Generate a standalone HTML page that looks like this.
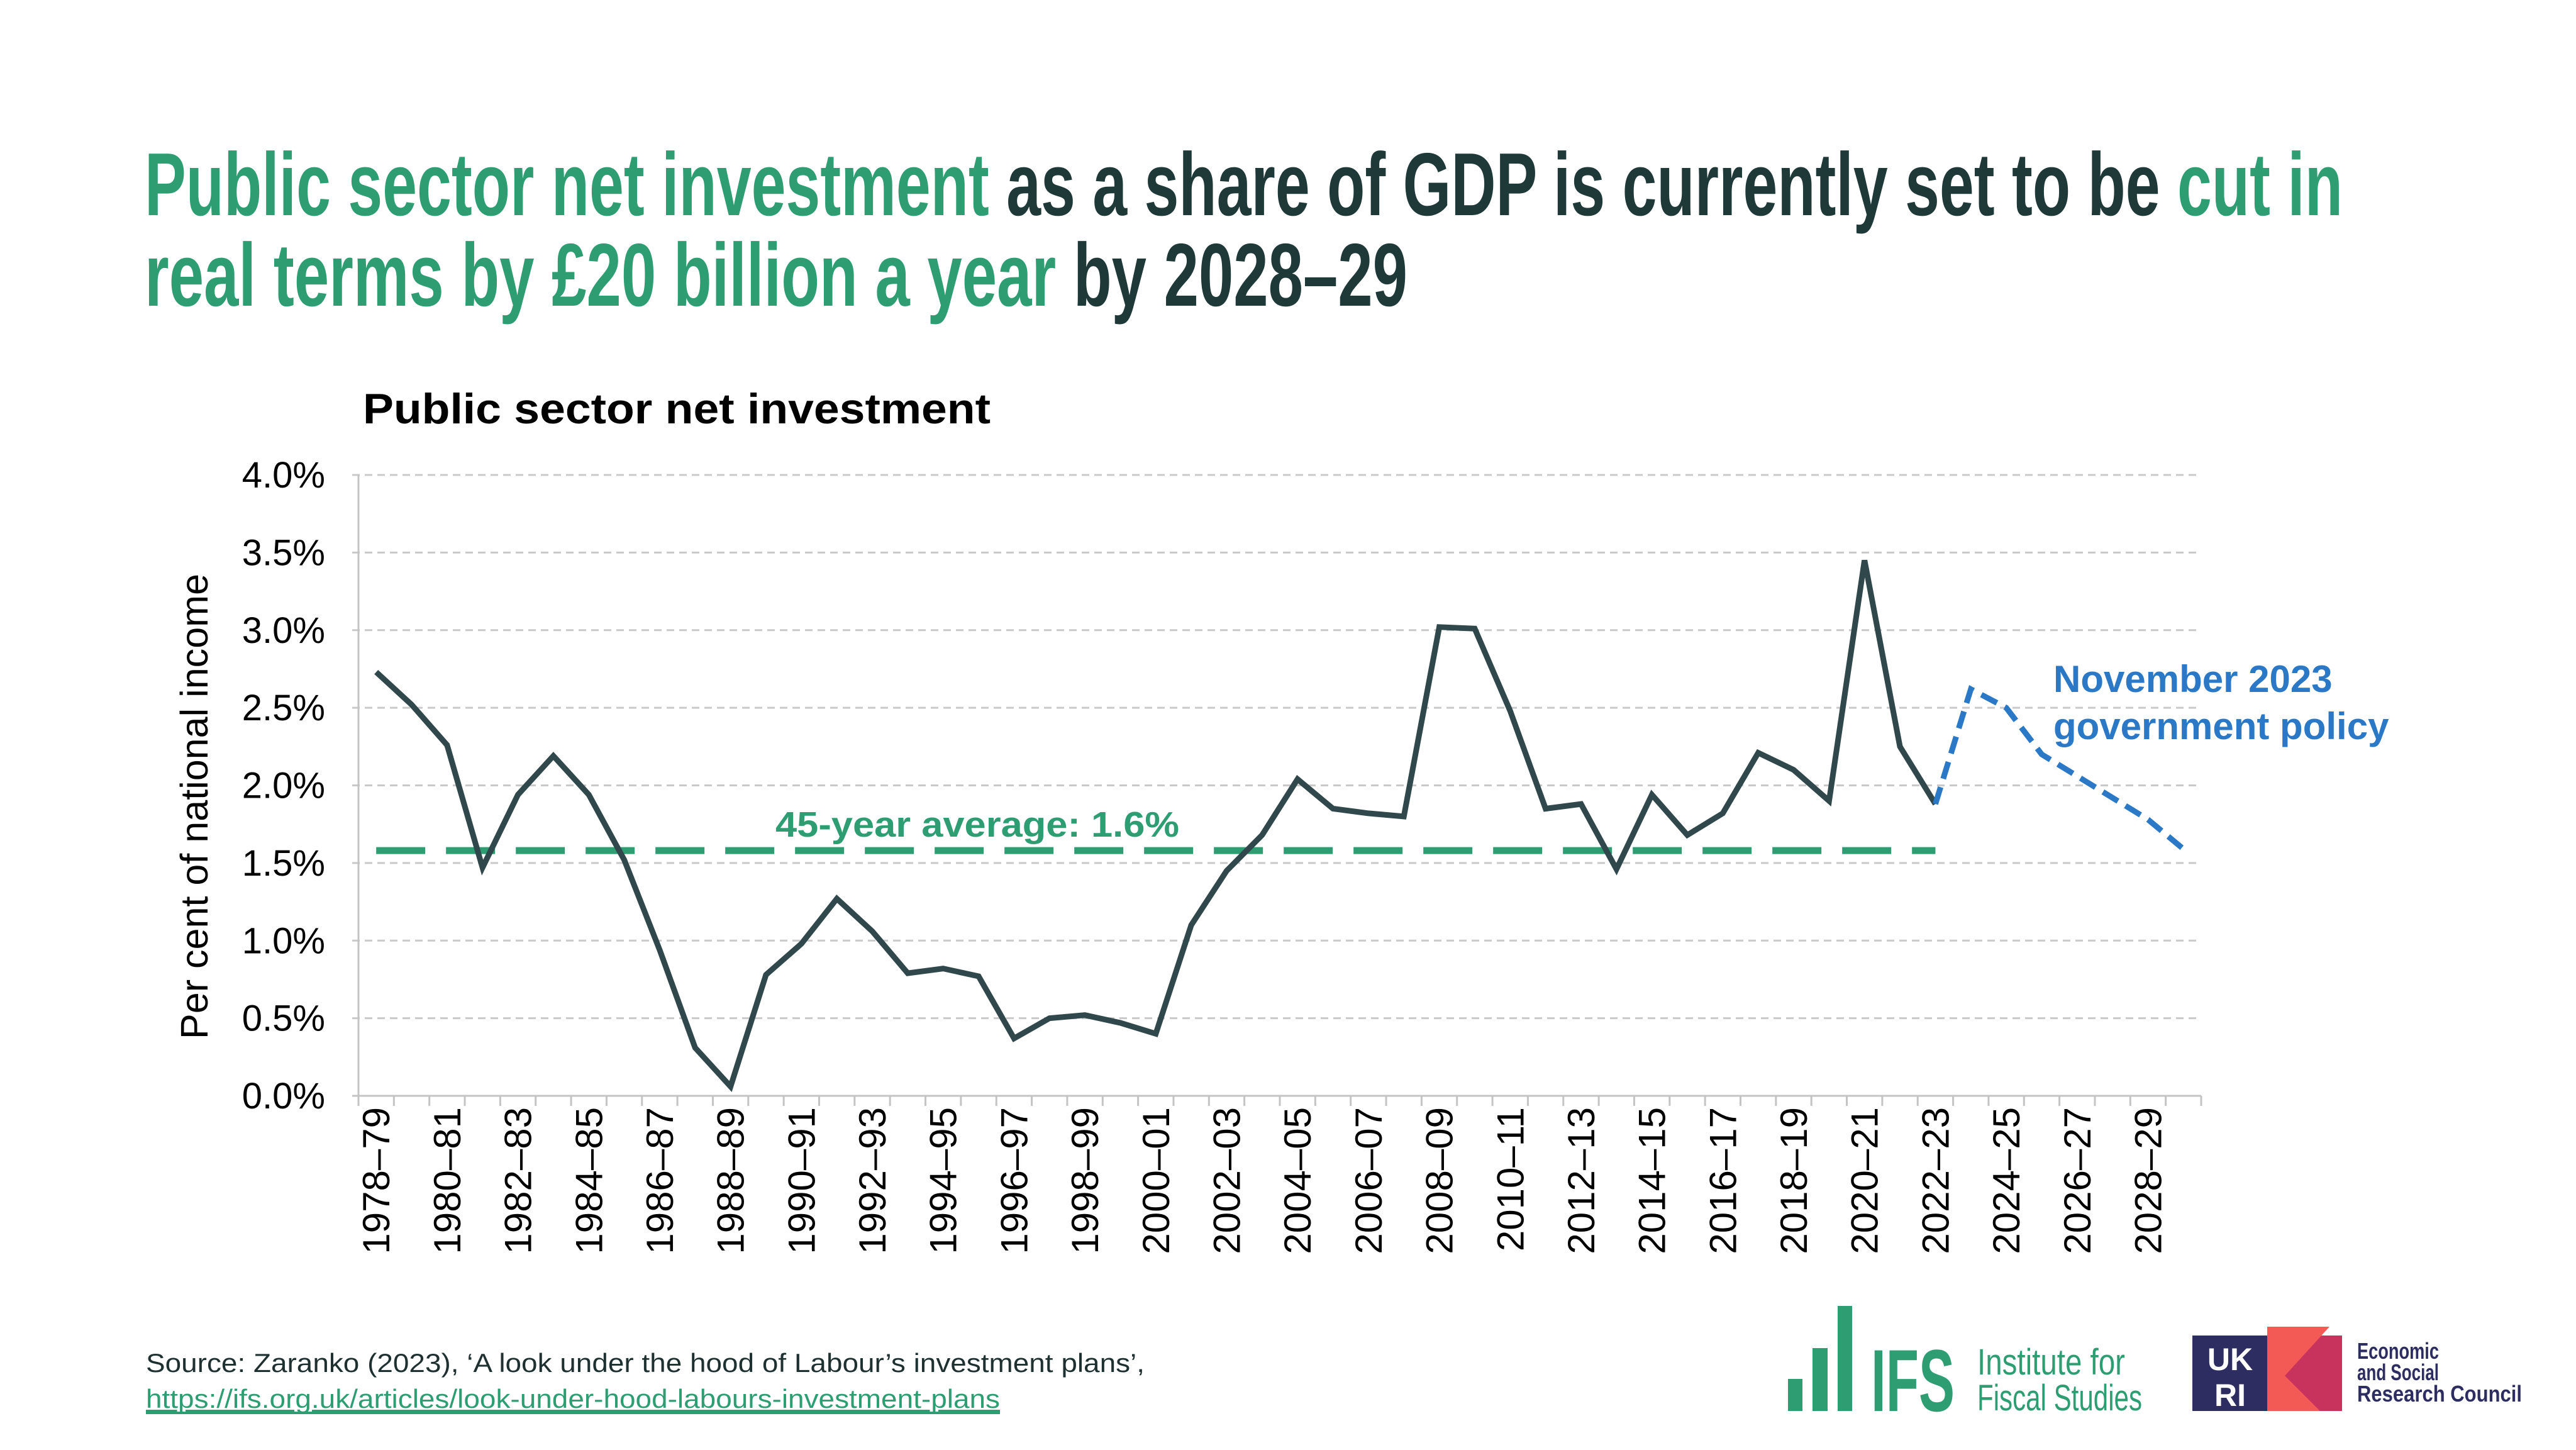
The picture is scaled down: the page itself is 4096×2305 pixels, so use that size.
<!DOCTYPE html>
<html><head><meta charset="utf-8">
<style>
html,body{margin:0;padding:0;background:#fff;}
svg{display:block;}
text{font-family:"Liberation Sans",sans-serif;}
.nar{font-family:"Liberation Sans Narrow","Liberation Sans",sans-serif;}
</style></head>
<body>
<svg id="chart" width="4096" height="2305" viewBox="0 0 4096 2305" xmlns="http://www.w3.org/2000/svg">
<g>
<text class="nar" x="230" y="342" font-size="142" font-weight="bold" textLength="3495" lengthAdjust="spacingAndGlyphs"><tspan fill="#2e9e72">Public sector net investment</tspan><tspan fill="#1f3838"> as a share of GDP is currently set to be </tspan><tspan fill="#2e9e72">cut in</tspan></text>
<text class="nar" x="230" y="486" font-size="142" font-weight="bold" textLength="2008" lengthAdjust="spacingAndGlyphs"><tspan fill="#2e9e72">real terms by £20 billion a year</tspan><tspan fill="#1f3838"> by 2028–29</tspan></text>
</g>
<text x="577" y="673" font-size="68" font-weight="bold" fill="#000" textLength="998" lengthAdjust="spacingAndGlyphs">Public sector net investment</text>
<text transform="translate(330,1282) rotate(-90)" text-anchor="middle" font-size="61" fill="#000" textLength="740" lengthAdjust="spacingAndGlyphs">Per cent of national income</text>
<g id="grid"></g>
<g id="axes"></g>
<g id="series"></g>
<text x="1233" y="1330" font-size="57" font-weight="bold" fill="#2e9e72" textLength="642" lengthAdjust="spacingAndGlyphs">45-year average: 1.6%</text>
<text font-size="60" font-weight="bold" fill="#2a78c6"><tspan x="3265" y="1100">November 2023</tspan><tspan x="3265" y="1175">government policy</tspan></text>
<g>
<text x="232" y="2181" font-size="42" fill="#1f3030" textLength="1588" lengthAdjust="spacingAndGlyphs">Source: Zaranko (2023), ‘A look under the hood of Labour’s investment plans’,</text>
<text x="232" y="2238" font-size="42" fill="#2e9e72" text-decoration="underline" textLength="1358" lengthAdjust="spacingAndGlyphs">https://ifs.org.uk/articles/look-under-hood-labours-investment-plans</text>
<rect x="232" y="2244" width="1358" height="4" fill="#2e9e72"/>
</g>
<g fill="#2e9e72">
<rect x="2843" y="2192" width="23" height="51"/>
<rect x="2882" y="2143" width="24" height="100"/>
<rect x="2922" y="2076" width="23" height="167"/>
<text class="nar" x="2975" y="2243" font-size="140" font-weight="bold" textLength="133" lengthAdjust="spacingAndGlyphs">IFS</text>
<text class="nar" x="3144" y="2185" font-size="58" textLength="235" lengthAdjust="spacingAndGlyphs">Institute for</text>
<text class="nar" x="3144" y="2242" font-size="58" textLength="262" lengthAdjust="spacingAndGlyphs">Fiscal Studies</text>
</g>
<g>
<rect x="3486" y="2123" width="120" height="120" fill="#2e2d62"/>
<polygon points="3605,2123 3724,2123 3724,2243 3605,2243" fill="#c8335e"/>
<polygon points="3605,2109 3704,2109 3633,2187 3689,2243 3605,2243" fill="#f45a55"/>
<text x="3546" y="2178" font-size="50" font-weight="bold" fill="#fff" text-anchor="middle">UK</text>
<text x="3546" y="2235" font-size="50" font-weight="bold" fill="#fff" text-anchor="middle">RI</text>
<text class="nar" x="3748" y="2160" font-size="36" font-weight="bold" fill="#2e2d62" textLength="130" lengthAdjust="spacingAndGlyphs">Economic</text>
<text class="nar" x="3748" y="2194" font-size="36" font-weight="bold" fill="#2e2d62" textLength="130" lengthAdjust="spacingAndGlyphs">and Social</text>
<text class="nar" x="3748" y="2228" font-size="36" font-weight="bold" fill="#2e2d62" textLength="262" lengthAdjust="spacingAndGlyphs">Research Council</text>
</g>
</svg>
<script>
const categories = ["1978–79","1979–80","1980–81","1981–82","1982–83","1983–84","1984–85","1985–86","1986–87","1987–88","1988–89","1989–90","1990–91","1991–92","1992–93","1993–94","1994–95","1995–96","1996–97","1997–98","1998–99","1999–00","2000–01","2001–02","2002–03","2003–04","2004–05","2005–06","2006–07","2007–08","2008–09","2009–10","2010–11","2011–12","2012–13","2013–14","2014–15","2015–16","2016–17","2017–18","2018–19","2019–20","2020–21","2021–22","2022–23","2023–24","2024–25","2025–26","2026–27","2027–28","2028–29","2029–30"];
const outturn = [2.73,2.52,2.26,1.47,1.94,2.19,1.94,1.52,0.94,0.31,0.06,0.78,0.98,1.27,1.06,0.79,0.82,0.77,0.37,0.50,0.52,0.47,0.40,1.10,1.45,1.68,2.04,1.85,1.82,1.80,3.02,3.01,2.48,1.85,1.88,1.46,1.94,1.68,1.82,2.21,2.10,1.90,3.45,2.25,1.88];
const forecast = [1.88,2.62,2.50,2.20,2.06,1.92,1.78,1.59];
const forecastStart = 44;
const averageValue = 1.58;
const yTicks = [0,0.5,1,1.5,2,2.5,3,3.5,4];
const yTickLabels = ["0.0%","0.5%","1.0%","1.5%","2.0%","2.5%","3.0%","3.5%","4.0%"];

const NS="http://www.w3.org/2000/svg";
const L=570,R=3500,T=755,B=1742,YMAX=4;
const bw=(R-L)/categories.length;
function x(i){return L+bw*(i+0.5);}
function y(v){return B-(v/YMAX)*(B-T);}
function mk(tag,attrs,parent){const e=document.createElementNS(NS,tag);for(const k in attrs)e.setAttribute(k,attrs[k]);parent.appendChild(e);return e;}
const grid=document.getElementById('grid'),axes=document.getElementById('axes'),series=document.getElementById('series');
yTicks.forEach((t,i)=>{
  if(t>0){const g=mk('line',{x1:L-10,x2:R,y1:y(t),y2:y(t),stroke:'#c9c9c9','stroke-width':3,'stroke-dasharray':'12 8'},grid);
  
  }
  const tl=mk('text',{x:517,y:y(t)+20,'text-anchor':'end','font-size':58,fill:'#000'},axes);
  tl.textContent=yTickLabels[i];
  
  
});
const ya=mk('line',{x1:L,x2:L,y1:T,y2:B,stroke:'#c4c4c4','stroke-width':3},axes);


const xa=mk('line',{x1:L-10,x2:R,y1:B,y2:B,stroke:'#c4c4c4','stroke-width':3},axes);


for(let i=0;i<=categories.length;i++){
  const tk=mk('line',{x1:L+bw*i,x2:L+bw*i,y1:B,y2:B+16,stroke:'#c4c4c4','stroke-width':3},axes);
  
  
}
categories.forEach((c,i)=>{
  if(i%2!==0)return;
  const tx=x(i)+21,ty=B+18;
  const t=mk('text',{x:tx,y:ty,transform:`rotate(-90 ${tx} ${ty})`,'text-anchor':'end','font-size':60,fill:'#000'},axes);
  t.textContent=c;
  
  
});
const avg=mk('line',{x1:x(0),x2:x(forecastStart),y1:y(averageValue),y2:y(averageValue),stroke:'#2e9e72','stroke-width':11,'stroke-dasharray':'78 33'},series);


const p1=mk('polyline',{points:outturn.map((v,i)=>x(i)+','+y(v)).join(' '),fill:'none',stroke:'#30484b','stroke-width':9,'stroke-linejoin':'miter'},series);


const p2=mk('polyline',{points:forecast.map((v,i)=>x(i+forecastStart)+','+y(v)).join(' '),fill:'none',stroke:'#2a78c6','stroke-width':9,'stroke-dasharray':'28 14'},series);


</script>
</body></html>
